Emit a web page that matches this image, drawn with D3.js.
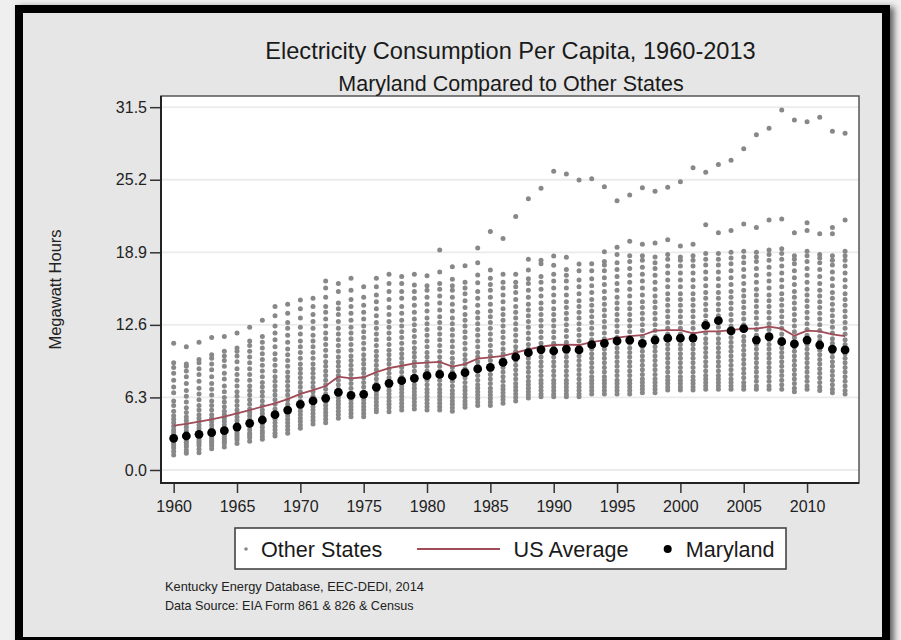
<!DOCTYPE html>
<html><head><meta charset="utf-8">
<script src="https://cdn.jsdelivr.net/npm/d3@7"></script>
<style>
body{margin:0;background:#efefef;}
svg{display:block;font-family:"Liberation Sans",Arial,Helvetica,sans-serif;}
</style>
</head><body>
<svg id="c" width="901" height="640"></svg>
<script>
// ---------------- DATA ----------------
const years = [1960,1961,1962,1963,1964,1965,1966,1967,1968,1969,
  1970,1971,1972,1973,1974,1975,1976,1977,1978,1979,
  1980,1981,1982,1983,1984,1985,1986,1987,1988,1989,
  1990,1991,1992,1993,1994,1995,1996,1997,1998,1999,
  2000,2001,2002,2003,2004,2005,2006,2007,2008,2009,
  2010,2011,2012,2013];

const maryland = [2.75,2.95,3.1,3.24,3.41,3.73,4.05,4.34,4.8,5.2,
  5.7,6.0,6.22,6.74,6.48,6.57,7.18,7.52,7.75,7.96,
  8.19,8.3,8.16,8.45,8.77,8.91,9.35,9.81,10.18,10.45,
  10.33,10.5,10.42,10.88,11.0,11.2,11.27,11.0,11.28,11.44,
  11.44,11.45,12.56,12.96,12.07,12.27,11.28,11.57,11.14,10.94,
  11.28,10.85,10.5,10.42];

const usAverage = [3.85,4.0,4.2,4.4,4.63,4.92,5.2,5.5,5.79,6.16,
  6.6,6.94,7.29,8.1,7.95,8.05,8.5,8.85,9.05,9.26,
  9.32,9.38,8.97,9.2,9.66,9.78,9.9,10.18,10.48,10.7,
  10.85,10.88,10.85,11.11,11.28,11.5,11.62,11.7,12.1,12.15,
  12.15,11.86,12.04,12.04,12.15,12.27,12.27,12.44,12.27,11.66,
  12.1,12.04,11.78,11.63];

// other states, one row per year (MWh per capita)
const otherStates = [
"1.3 1.6 1.9 2.1 2.3 2.5 2.7 2.9 3.1 3.3 3.5 3.8 4.1 4.4 4.7 5.1 5.6 6.0 6.7 7.2 7.8 8.4 8.9 9.3 11.0",
"1.45 1.7 2.0 2.2 2.4 2.6 2.8 3.0 3.2 3.4 3.7 4.0 4.3 4.6 5.0 5.4 5.9 6.4 6.9 7.5 8.1 8.6 9.0 9.2 10.7",
"1.5 1.8 2.1 2.3 2.5 2.7 2.9 3.1 3.3 3.6 3.9 4.2 4.5 4.8 5.2 5.6 6.1 6.6 7.1 7.7 8.3 8.8 9.3 9.6 11.1",
"1.85 2.1 2.3 2.5 2.7 2.9 3.1 3.4 3.6 3.9 4.2 4.5 4.8 5.2 5.6 6.0 6.5 7.0 7.5 8.1 8.7 9.2 9.7 10.0 11.5",
"2.0 2.3 2.5 2.7 2.9 3.1 3.3 3.6 3.9 4.2 4.5 4.8 5.1 5.5 5.9 6.3 6.8 7.3 7.9 8.4 9.0 9.5 9.9 10.3 11.6",
"2.3 2.6 2.8 3.0 3.2 3.4 3.7 4.0 4.3 4.6 4.9 5.2 5.6 6.0 6.4 6.8 7.3 7.8 8.3 8.8 9.4 9.9 10.3 10.6 11.9",
"2.5 2.8 3.0 3.2 3.5 3.8 4.1 4.4 4.7 5.0 5.3 5.7 6.1 6.5 6.9 7.3 7.8 8.3 8.8 9.3 9.8 10.3 10.8 11.2 12.4",
"2.66 2.9 3.2 3.4 3.7 4.0 4.3 4.6 4.9 5.2 5.6 6.0 6.4 6.8 7.2 7.6 8.1 8.6 9.1 9.6 10.1 10.6 11.1 11.6 13.0",
"2.95 3.2 3.5 3.8 4.1 4.4 4.7 5.0 5.3 5.7 6.1 6.5 6.9 7.3 7.7 8.1 8.6 9.1 9.6 10.1 10.7 11.3 11.9 12.5 13.4 14.2",
"3.18 3.5 3.8 4.1 4.4 4.7 5.0 5.3 5.7 6.1 6.5 6.9 7.3 7.7 8.1 8.5 9.0 9.5 10.0 10.5 11.1 11.7 12.3 12.8 13.6 14.4",
"3.62 3.9 4.2 4.5 4.8 5.1 5.4 5.7 6.0 6.4 6.8 7.2 7.6 8.0 8.4 8.8 9.2 9.7 10.2 10.7 11.2 11.8 12.4 13.2 14.0 14.75",
"4.0 4.3 4.6 4.9 5.2 5.5 5.8 6.1 6.4 6.8 7.2 7.6 8.0 8.4 8.8 9.2 9.7 10.2 10.7 11.2 11.7 12.3 12.9 13.5 14.2 14.9",
"4.1 4.4 4.7 5.0 5.3 5.6 5.9 6.2 6.6 7.0 7.4 7.8 8.2 8.6 9.0 9.4 9.9 10.4 10.9 11.4 11.9 12.5 13.1 13.7 14.2 15.0 15.8 16.4",
"4.5 4.8 5.1 5.4 5.7 6.0 6.3 6.6 7.0 7.4 7.8 8.2 8.6 9.0 9.4 9.8 10.3 10.8 11.3 11.8 12.3 12.9 13.5 14.0 14.5 15.5 16.2",
"4.63 4.9 5.2 5.5 5.8 6.1 6.4 6.7 7.1 7.5 7.9 8.3 8.7 9.1 9.5 9.9 10.4 10.9 11.4 11.9 12.4 13.0 13.6 14.2 14.8 15.6 16.64",
"4.63 4.9 5.2 5.5 5.8 6.1 6.4 6.8 7.2 7.6 8.0 8.4 8.8 9.2 9.6 10.0 10.5 11.0 11.5 12.0 12.5 13.1 13.7 14.3 15.0 15.9",
"5.06 5.3 5.6 5.9 6.2 6.5 6.8 7.1 7.5 7.9 8.3 8.7 9.1 9.5 9.9 10.3 10.8 11.3 11.8 12.3 12.8 13.4 14.0 14.6 15.2 15.9 16.64",
"5.06 5.4 5.7 6.0 6.3 6.6 6.9 7.2 7.6 8.0 8.4 8.8 9.2 9.6 10.0 10.4 10.9 11.4 11.9 12.4 12.9 13.5 14.1 14.8 15.5 16.2 17.0",
"5.2 5.5 5.8 6.1 6.4 6.7 7.0 7.3 7.7 8.1 8.5 8.9 9.3 9.7 10.1 10.5 11.0 11.5 12.0 12.5 13.0 13.6 14.2 14.9 15.5 16.2 16.8",
"5.3 5.6 5.9 6.2 6.5 6.8 7.1 7.4 7.8 8.2 8.6 9.0 9.4 9.8 10.2 10.6 11.1 11.6 12.1 12.6 13.1 13.7 14.3 14.9 15.5 16.06 17.0",
"5.2 5.5 5.8 6.1 6.4 6.7 7.0 7.4 7.8 8.2 8.6 9.0 9.4 9.8 10.2 10.7 11.2 11.7 12.2 12.7 13.2 13.8 14.4 15.0 15.6 16.0 16.87",
"5.2 5.5 5.8 6.1 6.4 6.7 7.0 7.4 7.8 8.2 8.6 9.0 9.4 9.8 10.3 10.8 11.3 11.8 12.3 12.8 13.3 13.9 14.5 15.1 15.7 16.2 17.2 19.1",
"5.1 5.4 5.7 6.0 6.3 6.6 6.9 7.3 7.7 8.1 8.5 8.9 9.3 9.7 10.2 10.7 11.2 11.7 12.2 12.7 13.2 13.8 14.4 15.0 15.6 16.0 16.55 17.65",
"5.44 5.7 6.0 6.3 6.6 6.9 7.2 7.6 8.0 8.4 8.8 9.2 9.6 10.0 10.5 11.0 11.5 12.0 12.5 13.0 13.5 14.1 14.7 15.3 15.8 16.3 17.73",
"5.6 5.9 6.2 6.5 6.8 7.1 7.4 7.8 8.2 8.6 9.0 9.4 9.8 10.2 10.7 11.2 11.7 12.2 12.7 13.2 13.7 14.3 14.9 15.5 16.26 16.93 18.0 19.27",
"5.6 5.9 6.2 6.5 6.8 7.1 7.5 7.9 8.3 8.7 9.1 9.5 9.9 10.3 10.8 11.3 11.8 12.3 12.8 13.3 13.8 14.4 15.0 15.6 16.1 16.64 17.36 20.7",
"5.8 6.1 6.4 6.7 7.0 7.3 7.7 8.1 8.5 8.9 9.3 9.7 10.1 10.5 11.0 11.5 12.0 12.5 13.0 13.5 14.0 14.6 15.2 15.8 16.3 17.0 20.1",
"6.0 6.3 6.6 6.9 7.2 7.5 7.9 8.3 8.7 9.1 9.5 9.9 10.3 10.7 11.2 11.7 12.2 12.7 13.2 13.7 14.2 14.8 15.4 15.9 16.3 17.0 22.0",
"6.25 6.5 6.8 7.1 7.4 7.7 8.1 8.5 8.9 9.3 9.7 10.1 10.5 10.9 11.4 11.9 12.4 12.9 13.4 13.9 14.4 15.0 15.6 16.2 16.6 17.36 18.3 23.55",
"6.36 6.6 6.9 7.2 7.5 7.8 8.2 8.6 9.0 9.4 9.8 10.2 10.6 11.0 11.5 12.0 12.5 13.0 13.5 14.0 14.5 15.1 15.7 16.3 16.8 17.9 18.2 24.45",
"6.36 6.6 6.9 7.2 7.5 7.8 8.2 8.6 9.0 9.4 9.8 10.2 10.6 11.0 11.5 12.0 12.5 13.0 13.5 14.0 14.6 15.2 15.8 16.4 17.0 17.77 18.58 25.93",
"6.36 6.6 6.9 7.2 7.5 7.8 8.2 8.6 9.0 9.4 9.8 10.2 10.6 11.1 11.6 12.1 12.6 13.1 13.6 14.1 14.6 15.2 15.8 16.4 16.9 17.4 18.46 25.7",
"6.36 6.6 6.9 7.2 7.5 7.9 8.3 8.7 9.1 9.5 9.9 10.3 10.7 11.2 11.7 12.2 12.7 13.2 13.7 14.2 14.7 15.3 15.9 16.5 17.3 17.88 25.17",
"6.6 6.9 7.2 7.5 7.8 8.1 8.5 8.9 9.3 9.7 10.1 10.5 10.9 11.3 11.8 12.3 12.8 13.3 13.8 14.3 14.8 15.4 16.0 16.6 17.3 17.9 25.29",
"6.6 6.9 7.2 7.5 7.8 8.1 8.5 8.9 9.3 9.7 10.1 10.5 10.9 11.4 11.9 12.4 12.9 13.4 13.9 14.4 14.9 15.5 16.1 16.7 17.3 17.8 18.1 18.95 24.6",
"6.6 6.9 7.2 7.5 7.8 8.2 8.6 9.0 9.4 9.8 10.2 10.6 11.0 11.5 12.0 12.5 13.0 13.5 14.0 14.5 15.0 15.6 16.2 16.8 17.4 18.0 18.7 19.33 23.38",
"6.6 6.9 7.2 7.5 7.8 8.2 8.6 9.0 9.4 9.8 10.2 10.6 11.0 11.5 12.0 12.5 13.0 13.5 14.0 14.5 15.1 15.7 16.3 16.9 17.5 18.1 18.6 19.85 23.87",
"6.7 7.0 7.3 7.6 7.9 8.3 8.7 9.1 9.5 9.9 10.3 10.7 11.1 11.6 12.1 12.6 13.1 13.6 14.1 14.6 15.2 15.8 16.4 17.0 17.6 18.2 18.6 19.6 24.5",
"6.7 7.0 7.3 7.6 7.9 8.3 8.7 9.1 9.5 9.9 10.3 10.7 11.1 11.6 12.1 12.6 13.1 13.6 14.1 14.6 15.1 15.7 16.3 16.9 17.5 18.0 18.5 19.7 24.2",
"6.94 7.2 7.5 7.8 8.1 8.5 8.9 9.3 9.7 10.1 10.5 10.9 11.3 11.8 12.3 12.8 13.3 13.8 14.3 14.8 15.3 15.9 16.5 17.1 17.7 18.3 18.7 20.0 24.54",
"6.94 7.2 7.5 7.8 8.1 8.5 8.9 9.3 9.7 10.1 10.5 10.9 11.3 11.8 12.3 12.8 13.3 13.8 14.3 14.8 15.3 15.9 16.5 17.1 17.7 18.2 18.5 19.44 25.03",
"6.94 7.2 7.5 7.8 8.1 8.5 8.9 9.3 9.7 10.1 10.5 10.9 11.3 11.8 12.3 12.8 13.3 13.8 14.3 14.8 15.3 15.9 16.5 17.1 17.7 18.2 18.6 19.6 26.24",
"7.0 7.3 7.6 7.9 8.2 8.6 9.0 9.4 9.8 10.2 10.6 11.0 11.4 11.9 12.4 12.9 13.4 13.9 14.4 14.9 15.4 16.0 16.6 17.2 17.8 18.3 18.8 21.3 25.84",
"7.0 7.3 7.6 7.9 8.2 8.6 9.0 9.4 9.8 10.2 10.6 11.0 11.4 11.9 12.4 12.9 13.4 13.9 14.4 14.9 15.4 16.0 16.6 17.2 17.8 18.3 18.8 20.6 26.53",
"7.0 7.3 7.6 7.9 8.3 8.7 9.1 9.5 9.9 10.3 10.7 11.1 11.5 12.0 12.5 13.0 13.5 14.0 14.5 15.0 15.5 16.1 16.7 17.3 17.9 18.4 18.9 20.8 26.9",
"7.0 7.3 7.6 8.0 8.4 8.8 9.2 9.6 10.0 10.4 10.8 11.2 11.6 12.1 12.6 13.1 13.6 14.1 14.6 15.1 15.6 16.2 16.8 17.4 18.0 18.5 19.0 21.35 27.9",
"7.0 7.3 7.7 8.1 8.5 8.9 9.3 9.7 10.1 10.5 10.9 11.3 11.7 12.2 12.7 13.2 13.7 14.2 14.7 15.2 15.7 16.3 16.9 17.5 18.1 18.5 18.9 21.06 29.1",
"7.0 7.3 7.7 8.1 8.5 8.9 9.3 9.7 10.1 10.5 10.9 11.3 11.7 12.2 12.7 13.2 13.7 14.2 14.7 15.2 15.8 16.4 17.0 17.6 18.2 18.7 19.1 21.7 29.66",
"7.0 7.4 7.8 8.2 8.6 9.0 9.4 9.8 10.2 10.6 11.0 11.4 11.8 12.3 12.8 13.3 13.8 14.3 14.8 15.3 15.9 16.5 17.1 17.7 18.3 18.8 19.2 21.8 31.25",
"6.8 7.1 7.5 7.9 8.3 8.7 9.1 9.5 9.9 10.3 10.7 11.1 11.5 12.0 12.5 13.0 13.5 14.0 14.5 15.0 15.5 16.1 16.7 17.3 17.9 18.3 18.6 20.6 30.38",
"7.0 7.3 7.7 8.1 8.5 8.9 9.3 9.7 10.1 10.5 10.9 11.3 11.7 12.2 12.7 13.2 13.7 14.2 14.7 15.2 15.7 16.3 16.9 17.5 18.1 18.6 19.0 20.8 21.47 30.24",
"6.9 7.2 7.6 8.0 8.4 8.8 9.2 9.6 10.0 10.4 10.8 11.2 11.6 12.1 12.6 13.1 13.6 14.1 14.6 15.1 15.6 16.2 16.8 17.4 18.0 18.4 18.7 20.5 30.62",
"6.7 7.0 7.4 7.8 8.2 8.6 9.0 9.4 9.8 10.2 10.6 11.0 11.4 11.9 12.4 12.9 13.4 13.9 14.4 14.9 15.4 16.0 16.6 17.2 17.8 18.2 18.6 20.5 21.06 29.4",
"6.6 6.9 7.3 7.7 8.1 8.5 8.9 9.3 9.7 10.1 10.5 10.9 11.3 11.8 12.3 12.8 13.3 13.8 14.3 14.8 15.3 15.9 16.5 17.1 17.7 18.2 18.6 19.0 21.7 29.23"
];

const yTickValues = [0.0, 6.3, 12.6, 18.9, 25.2, 31.5];
const xTickValues = [1960,1965,1970,1975,1980,1985,1990,1995,2000,2005,2010];

const titleText = "Electricity Consumption Per Capita, 1960-2013";
const subtitleText = "Maryland Compared to Other States";
const yAxisTitle = "Megawatt Hours";
const legendLabels = ["Other States", "US Average", "Maryland"];
const notes = ["Kentucky Energy Database, EEC-DEDI, 2014", "Data Source: EIA Form 861 & 826 & Census"];

// ---------------- DRAW ----------------
const svg = d3.select("#c");
const defs = svg.append("defs");
const f = defs.append("filter").attr("id","sh").attr("x","-5%").attr("y","-5%").attr("width","115%").attr("height","115%");
f.append("feDropShadow").attr("dx",4).attr("dy",2).attr("stdDeviation",3).attr("flood-color","#000").attr("flood-opacity",0.6);

svg.append("rect").attr("x",0).attr("y",0).attr("width",901).attr("height",640).attr("fill","#efefef");
svg.append("rect").attr("x",15).attr("y",5).attr("width",875).attr("height",650).attr("fill","#000").attr("filter","url(#sh)");
svg.append("rect").attr("x",23).attr("y",13).attr("width",859).attr("height",624).attr("fill","#e6e6e6");

const L = 161, R = 859, T = 96, B = 483;
const x = d3.scaleLinear().domain([1959, 2014.1]).range([L, R]);
const y = d3.scaleLinear().domain([-1.13, 32.47]).range([B, T]);

svg.append("rect").attr("x",L).attr("y",T).attr("width",R-L).attr("height",B-T).attr("fill","#fff");

// gridlines
svg.append("g").selectAll("line").data(yTickValues).join("line")
  .attr("x1",L).attr("x2",R).attr("y1",d=>y(d)).attr("y2",d=>y(d))
  .attr("stroke","#ebebeb").attr("stroke-width",1.8);

// plot frame
svg.append("rect").attr("x",L).attr("y",T).attr("width",R-L).attr("height",B-T)
  .attr("fill","none").attr("stroke","#555").attr("stroke-width",1.5);

// other states points
const pts = [];
otherStates.forEach((row,i)=>{
  row.split(" ").map(Number).forEach(v=>pts.push({yr:years[i], v}));
});
svg.append("g").selectAll("circle").data(pts).join("circle")
  .attr("cx",d=>x(d.yr)).attr("cy",d=>y(d.v)).attr("r",2.5).attr("fill","#888");

// US average line
const line = d3.line().x((d,i)=>x(years[i])).y(d=>y(d));
svg.append("path").datum(usAverage).attr("d",line).attr("fill","none")
  .attr("stroke","#a04c58").attr("stroke-width",1.8);

// Maryland
svg.append("g").selectAll("circle").data(maryland).join("circle")
  .attr("cx",(d,i)=>x(years[i])).attr("cy",d=>y(d)).attr("r",4.4).attr("fill","#000");

// axes
const yAxis = d3.axisLeft(y).tickValues(yTickValues).tickFormat(d3.format(".1f"))
  .tickSize(11).tickPadding(3).tickSizeOuter(0);
const gy = svg.append("g").attr("transform",`translate(${L},0)`).call(yAxis);
gy.select(".domain").remove();
gy.selectAll("line").attr("stroke","#333").attr("stroke-width",1.5);
gy.selectAll("text").attr("font-size",16).attr("fill","#222").attr("font-family","Liberation Sans, Arial, sans-serif");

const xAxis = d3.axisBottom(x).tickValues(xTickValues).tickFormat(d3.format("d"))
  .tickSize(10).tickPadding(8).tickSizeOuter(0);
const gx = svg.append("g").attr("transform",`translate(0,${B})`).call(xAxis);
gx.select(".domain").remove();
gx.selectAll("line").attr("stroke","#333").attr("stroke-width",1.5);
gx.selectAll("text").attr("font-size",16).attr("fill","#222").attr("font-family","Liberation Sans, Arial, sans-serif");

// axis lines
svg.append("line").attr("x1",L).attr("x2",L).attr("y1",T).attr("y2",B+1).attr("stroke","#222").attr("stroke-width",2);
svg.append("line").attr("x1",L-1).attr("x2",R).attr("y1",B).attr("y2",B).attr("stroke","#222").attr("stroke-width",2.2);

// titles
svg.append("text").attr("x",510.5).attr("y",59).attr("text-anchor","middle")
  .attr("font-size",23.6).attr("fill","#1a1a1a").text(titleText);
svg.append("text").attr("x",511).attr("y",90.5).attr("text-anchor","middle")
  .attr("font-size",21.5).attr("fill","#1a1a1a").text(subtitleText);
svg.append("text").attr("transform",`translate(60.5,${(T+B)/2}) rotate(-90)`).attr("text-anchor","middle")
  .attr("font-size",16.5).attr("fill","#222").text(yAxisTitle);

// legend
const lg = svg.append("g");
lg.append("rect").attr("x",235).attr("y",528).attr("width",551).attr("height",41)
  .attr("fill","#fff").attr("stroke","#444").attr("stroke-width",1.6);
lg.append("circle").attr("cx",246).attr("cy",549).attr("r",1.8).attr("fill","#888");
lg.append("text").attr("x",261).attr("y",557.3).attr("font-size",21.6).attr("fill","#1a1a1a").text(legendLabels[0]);
lg.append("line").attr("x1",417).attr("x2",500).attr("y1",549).attr("y2",549).attr("stroke","#a04c58").attr("stroke-width",1.8);
lg.append("text").attr("x",513.6).attr("y",557.3).attr("font-size",21.6).attr("fill","#1a1a1a").text(legendLabels[1]);
lg.append("circle").attr("cx",667.7).attr("cy",549).attr("r",4).attr("fill","#000");
lg.append("text").attr("x",685.7).attr("y",557.3).attr("font-size",21.6).attr("fill","#1a1a1a").text(legendLabels[2]);

// notes
svg.append("text").attr("x",165).attr("y",590.7).attr("font-size",12.8).attr("fill","#222").text(notes[0]);
svg.append("text").attr("x",165).attr("y",610).attr("font-size",12.6).attr("fill","#222").text(notes[1]);
</script>
</body></html>
